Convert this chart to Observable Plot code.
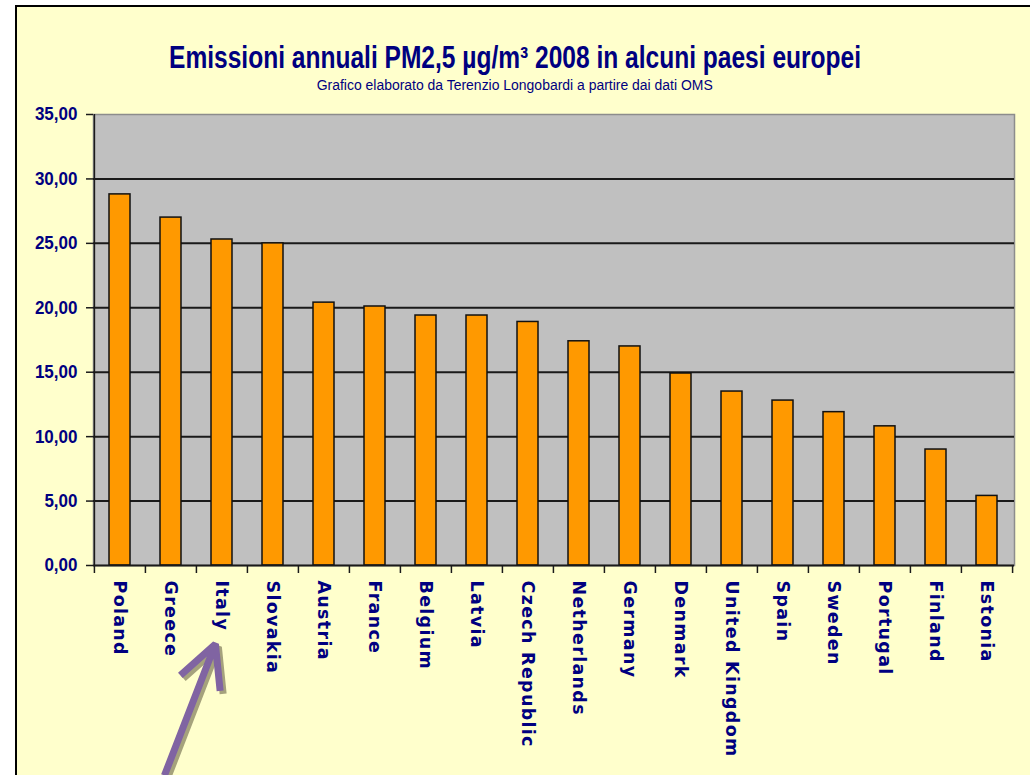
<!DOCTYPE html>
<html>
<head>
<meta charset="utf-8">
<script src="https://cdn.jsdelivr.net/npm/d3@7"></script>
<script src="https://cdn.jsdelivr.net/npm/@observablehq/plot@0.6"></script>
<style>
  html, body { margin: 0; padding: 0; width: 1030px; height: 775px; overflow: hidden; background: #ffffff; }
  #frame { position: absolute; left: 15px; top: 5px; width: 1060px; height: 820px; border: 2px solid #000; background: #FFFFCC; box-sizing: border-box; }
  .ttl { position: absolute; left: 0; width: 1030px; text-align: center; white-space: nowrap; color: #000080; line-height: 1; }
  .ttl span { display: inline-block; transform-origin: 50% 50%; }
  #title { top: 40px; font: bold 31px "Liberation Sans", Arial, sans-serif; }
  #subtitle { top: 77px; font: 14px "Liberation Sans", Arial, sans-serif; }
  #chart { position: absolute; left: 0; top: 100px; }
</style>
</head>
<body>
<div id="frame"></div>
<div id="title" class="ttl"><span>Emissioni annuali PM2,5 µg/m³ 2008 in alcuni paesi europei</span></div>
<div id="subtitle" class="ttl"><span>Grafico elaborato da Terenzio Longobardi a partire dai dati OMS</span></div>
<div id="chart"></div>
<script>
// ---- data ----
const countries = ["Poland","Greece","Italy","Slovakia","Austria","France","Belgium","Latvia","Czech Republic","Netherlands","Germany","Denmark","United Kingdom","Spain","Sweden","Portugal","Finland","Estonia"];
const values = [28.8, 27.0, 25.3, 25.0, 20.4, 20.1, 19.4, 19.4, 18.9, 17.4, 17.0, 14.9, 13.5, 12.8, 11.9, 10.8, 9.0, 5.4];
const yTicks = [0, 5, 10, 15, 20, 25, 30, 35];
// annotation arrow pointing at Italy (from below the axis, in value units)
const arrowNote = [{from: "Greece", to: "Italy", yFrom: -16.3, yTo: -6.1}];

const data = countries.map((c, i) => ({country: c, value: values[i]}));

// ---- layout ----
const W = 1030, H = 675;
const mL = 93, mR = 16, mT = 14, mB = 210;
const step = (W - mL - mR) / countries.length;
const navy = "#000080";
const dark = "#1a1a1a";
const fmt = d => d.toFixed(2).replace(".", ",");

const chart = Plot.plot({
  width: W, height: H,
  marginLeft: mL, marginRight: mR, marginTop: mT, marginBottom: mB,
  style: {background: "transparent", overflow: "visible"},
  x: {domain: countries, paddingInner: 0.584, paddingOuter: 0.292, axis: null},
  y: {domain: [0, 35], axis: null},
  marks: [
    Plot.frame({fill: "#C0C0C0", stroke: "#8c8c8c", strokeWidth: 1.5}),
    Plot.ruleY(yTicks.filter(t => t > 0 && t < 35), {stroke: dark, strokeWidth: 2}),
    Plot.barY(data, {x: "country", y: "value", fill: "#FF9900", stroke: "#111", strokeWidth: 1.5}),
    // axis lines
    Plot.ruleY([0], {stroke: dark, strokeWidth: 2}),
    Plot.ruleX([countries[0]], {x: d => d, y1: 0, y2: 35, dx: -step / 2, stroke: dark, strokeWidth: 1.5}),
    // category boundary ticks
    Plot.ruleX(countries, {x: d => d, y1: 0, y2: -0.62, dx: -step / 2, stroke: dark, strokeWidth: 1.5}),
    Plot.ruleX([countries[countries.length - 1]], {x: d => d, y1: 0, y2: -0.62, dx: step / 2, stroke: dark, strokeWidth: 1.5}),
    // y axis ticks + labels
    Plot.axisY({ticks: yTicks, tickSize: 7, tickFormat: () => "", color: dark, strokeWidth: 1.5}),
    Plot.axisY({ticks: yTicks, tickSize: 0, tickPadding: 16, tickFormat: fmt, color: navy,
      fontSize: 18.5, fontWeight: "bold", fontFamily: "Liberation Sans, Arial, sans-serif"}),
    // x labels
    Plot.axisX({tickSize: 0, tickPadding: 15, tickRotate: 90, color: navy,
      fontSize: 17.5, fontWeight: "bold", fontFamily: "DejaVu Sans, Verdana, sans-serif"}),
    // annotation arrow (shadow + arrow)
    Plot.arrow(arrowNote, {x1: "from", x2: "to", y1: "yFrom", y2: "yTo", dx: -6.6 + 3, dy: 3,
      stroke: "#a5a27c", strokeWidth: 7, headLength: 16, headAngle: 54, strokeLinecap: "butt", strokeLinejoin: "miter"}),
    Plot.arrow(arrowNote, {x1: "from", x2: "to", y1: "yFrom", y2: "yTo", dx: -6.6,
      stroke: "#8064A2", strokeWidth: 7, headLength: 16, headAngle: 54, strokeLinecap: "butt", strokeLinejoin: "miter"})
  ]
});
document.getElementById("chart").appendChild(chart);

// letter spacing on category labels
d3.select(chart).selectAll('g[aria-label="x-axis tick label"] text')
  .style("letter-spacing", "1.3px");
// narrow the y tick labels slightly
d3.select(chart).selectAll('g[aria-label="y-axis tick label"] text').each(function() {
  const w = this.getComputedTextLength();
  if (w > 0) {
    this.setAttribute("textLength", (w * 0.92).toFixed(1));
    this.setAttribute("lengthAdjust", "spacingAndGlyphs");
  }
});
// condense title and subtitle to the reference widths
function fit(id, target) {
  const s = document.querySelector("#" + id + " span");
  const w = s.getBoundingClientRect().width;
  if (w > 0) s.style.transform = "scaleX(" + (target / w) + ")";
}
fit("title", 692);
fit("subtitle", 396);
</script>
</body>
</html>
